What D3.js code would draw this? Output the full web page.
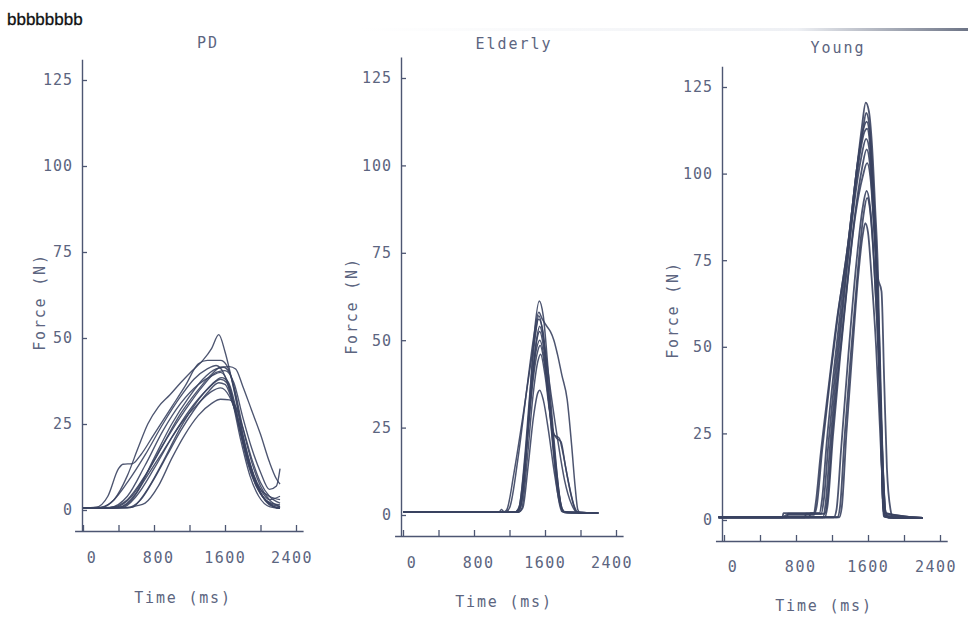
<!DOCTYPE html>
<html><head><meta charset="utf-8">
<script src="https://cdn.jsdelivr.net/npm/d3@7"></script>
<style>body{margin:0;background:#fff}svg{display:block}</style>
</head><body>
<script>
// ---------------- DATA ----------------
const headerText = "bbbbbbbb";
const panelTitles = ["PD", "Elderly", "Young"];
const yTickValues = [0, 25, 50, 75, 100, 125];
const xTickValues = [0, 400, 800, 1200, 1600, 2000, 2400];
const xLabelValues = [0, 800, 1600, 2400];
const xAxisTitle = "Time (ms)";
const yAxisTitle = "Force (N)";

// PD trials: [time ms, force N]
const pdCurves = [
  [[0,0.5],[200,0.8],[350,3],[500,10],[620,18],[730,25],[850,30],[980,33.5],[1100,37],[1230,40.5],[1350,43.5],[1450,47],[1530,51],[1600,46],[1700,35],[1800,22],[1900,12],[2000,5],[2100,1.5],[2220,0.5]],
  [[0,0.5],[150,0.8],[280,4],[400,12],[450,13.3],[560,13.5],[650,16],[800,22],[1000,30],[1150,36],[1300,42.5],[1400,43.5],[1550,43.5],[1620,42],[1700,36],[1800,24],[1900,14],[2000,7],[2100,3],[2220,1]],
  [[0,0.5],[300,0.7],[500,3],[700,10],[900,19],[1100,28],[1300,35],[1450,39.5],[1550,41.5],[1650,41.7],[1720,41],[1800,36],[1900,29],[2000,22],[2100,14],[2180,9],[2220,7.5]],
  [[0,0.5],[350,0.7],[550,4],[750,12],[950,21],[1150,29],[1350,36],[1500,40],[1600,40.5],[1700,37],[1800,27],[1900,18],[2000,11],[2100,6],[2180,7],[2220,12]],
  [[0,0.5],[500,0.6],[600,1.2],[700,2],[850,7],[1000,15],[1150,22],[1300,27.5],[1450,31],[1550,32.2],[1650,32],[1720,30],[1800,24],[1900,15],[2000,8],[2100,4],[2220,2]],
  [[0,0.5],[400,0.7],[550,3],[700,9],[900,17],[1100,25],[1300,31],[1450,34.5],[1550,35.5],[1650,33],[1750,26],[1850,16],[1950,8],[2050,3],[2150,1],[2220,0.5]],
  [[0,0.5],[450,0.8],[600,4],[800,12],[1000,21],[1200,29],[1400,35],[1550,38],[1620,37],[1700,31],[1800,20],[1900,11],[2000,5],[2100,2],[2220,1]],
  [[0,0.5],[300,0.7],[500,4],[700,13],[900,23],[1100,31],[1300,36.5],[1450,39],[1550,40],[1650,36],[1750,25],[1850,14],[1950,7],[2050,3],[2150,1],[2220,0.5]],
  [[0,0.5],[500,0.7],[650,3],[800,9],[950,16],[1100,23],[1250,29],[1400,34],[1530,37],[1600,36.5],[1700,30],[1800,20],[1900,11],[2000,6],[2100,4],[2220,3]],
  [[0,0.5],[550,0.8],[700,5],[900,14],[1100,24],[1300,32],[1450,36.5],[1560,38.5],[1640,37],[1720,30],[1820,18],[1920,9],[2020,4],[2120,2],[2220,1.5]],
  [[0,0.5],[400,0.8],[600,5],[800,15],[1000,25],[1200,33],[1350,38],[1500,41],[1580,41.5],[1650,40],[1720,33],[1800,22],[1900,12],[2000,6],[2100,3],[2220,4]],
  [[0,0.5],[200,0.6],[350,3],[500,8],[700,16],[900,25],[1100,33],[1250,38],[1400,41],[1500,42],[1580,40],[1680,32],[1780,20],[1880,10],[1980,4],[2100,1],[2220,0.5]]
];

// Elderly trials
const elderlyCurves = [
  [[0,0.8],[1200,0.8],[1300,1],[1360,8],[1420,30],[1480,52],[1536,61.2],[1580,57],[1640,40],[1700,22],[1760,6],[1800,1],[1900,0.6],[2200,0.6]],
  [[0,0.8],[1150,0.8],[1200,2],[1300,17],[1400,37],[1480,52],[1530,58],[1570,56],[1620,54],[1660,52.5],[1700,50],[1740,46],[1790,40],[1850,33],[1900,20],[1940,8],[1970,1.5],[2000,0.6],[2200,0.6]],
  [[0,0.8],[1080,0.8],[1110,1.6],[1140,0.9],[1170,1.5],[1250,12],[1350,28],[1450,45],[1530,56],[1580,52],[1640,36],[1700,19],[1760,5],[1800,1],[1850,0.6],[2200,0.6]],
  [[0,0.8],[1250,0.8],[1320,2],[1380,16],[1440,35],[1500,49],[1540,52.5],[1590,47],[1650,33],[1720,15],[1780,3],[1820,0.8],[2200,0.6]],
  [[0,0.8],[1250,0.8],[1300,1.5],[1360,12],[1430,32],[1500,47],[1540,50],[1590,45],[1640,33],[1690,24],[1730,22],[1780,21],[1830,14],[1900,5],[1950,1],[2000,0.6],[2200,0.6]],
  [[0,0.8],[1280,0.8],[1330,3],[1390,18],[1450,35],[1510,46],[1545,48.5],[1600,42],[1660,28],[1730,11],[1790,2],[1830,0.8],[2200,0.6]],
  [[0,0.8],[1300,0.8],[1340,2],[1400,16],[1460,33],[1520,44],[1550,46],[1600,40],[1650,30],[1700,23],[1760,22],[1800,18],[1860,10],[1930,2.5],[1970,0.8],[2200,0.6]],
  [[0,0.8],[1300,0.8],[1350,2],[1410,14],[1470,28],[1520,35],[1540,35.7],[1580,33],[1640,24],[1700,13],[1760,4],[1800,1],[2200,0.6]],
  [[0,0.8],[1260,0.8],[1310,2.5],[1370,16],[1430,35],[1490,51],[1530,57],[1570,53],[1630,37],[1690,19],[1750,5],[1790,1],[2200,0.6]],
  [[0,0.8],[1280,0.8],[1330,4],[1400,22],[1460,39],[1510,51],[1540,54],[1590,49],[1660,36],[1740,22],[1820,10],[1900,3],[1960,0.8],[2200,0.6]]
];

// Young trials
const youngCurves = [
  [[-60,0.8],[650,0.8],[660,2],[1000,2],[1020,5],[1070,18],[1160,38],[1250,57],[1360,76],[1470,100],[1530,113],[1575,120.5],[1610,118],[1645,108],[1680,90],[1710,72],[1730,48],[1745,25],[1760,8],[1775,1],[1850,0.6],[2210,0.6]],
  [[-60,0.8],[650,0.8],[700,1.5],[1000,1.5],[1030,4],[1090,20],[1180,41],[1270,60],[1380,80],[1480,102],[1540,112],[1580,117.5],[1615,114],[1650,100],[1685,80],[1715,55],[1740,30],[1760,10],[1780,1.5],[1860,0.6],[2210,0.6]],
  [[-60,0.8],[700,0.8],[710,1.8],[1080,1.8],[1110,6],[1160,22],[1240,44],[1320,63],[1410,84],[1500,104],[1560,112],[1590,113],[1620,109],[1655,95],[1690,75],[1720,50],[1745,25],[1765,6],[1785,1],[2210,0.6]],
  [[-60,0.8],[1100,0.8],[1130,5],[1180,22],[1260,45],[1340,66],[1430,88],[1520,104],[1580,110],[1620,106],[1660,90],[1700,70],[1730,45],[1755,18],[1780,2],[2210,0.6]],
  [[-60,0.8],[900,0.8],[910,1.8],[1120,1.8],[1150,6],[1200,24],[1280,46],[1360,66],[1450,87],[1530,101],[1585,107],[1620,103],[1660,88],[1700,69],[1735,45],[1760,20],[1790,3],[1830,0.6],[2210,0.6]],
  [[-60,0.8],[1120,0.8],[1150,4],[1210,24],[1290,47],[1370,68],[1460,88],[1540,99],[1590,103],[1630,98],[1670,83],[1710,70],[1750,66],[1780,40],[1810,15],[1850,3],[1880,0.6],[2210,0.6]],
  [[-60,0.8],[1220,0.8],[1250,3],[1300,20],[1380,47],[1470,74],[1540,90],[1585,95],[1620,91],[1660,78],[1700,58],[1740,33],[1770,12],[1800,2],[2210,0.6]],
  [[-60,0.8],[1260,0.8],[1290,4],[1340,24],[1410,48],[1490,73],[1550,88],[1590,93],[1625,89],[1665,75],[1705,55],[1745,30],[1775,10],[1800,1.5],[2210,0.6]],
  [[-60,0.8],[1280,0.8],[1310,4],[1360,25],[1430,50],[1490,70],[1540,82],[1570,85.7],[1600,83],[1640,70],[1690,50],[1730,28],[1765,9],[1795,1],[2210,0.6]],
  [[-60,0.8],[950,0.8],[960,2],[1060,2],[1090,6],[1140,22],[1220,43],[1300,62],[1400,84],[1490,104],[1550,113],[1585,115],[1620,111],[1655,96],[1690,76],[1720,50],[1745,25],[1765,6],[1785,1],[2210,0.6]]
];

// ---------------- DRAWING ----------------
const W = 968, H = 619;
const LINE = "#3a4360", AXIS = "#4d5672", TEXT = "#5c6580";
const FONT = "'DejaVu Sans Mono', monospace";

const svg = d3.select("body").append("svg").attr("width", W).attr("height", H);

// scan artefact line at top
const grad = svg.append("defs").append("linearGradient").attr("id", "g1");
grad.append("stop").attr("offset", "0%").attr("stop-color", "#ffffff");
grad.append("stop").attr("offset", "72%").attr("stop-color", "#eef0f4");
grad.append("stop").attr("offset", "100%").attr("stop-color", "#6d7486");
svg.append("rect").attr("x", 360).attr("y", 28).attr("width", W - 360).attr("height", 3).attr("fill", "url(#g1)");

svg.append("text").attr("x", 7).attr("y", 25).text(headerText)
  .attr("font-family", "'Liberation Sans', Arial, sans-serif").attr("font-size", 17)
  .attr("fill", "#111").attr("stroke", "#111").attr("stroke-width", 0.3);

const layouts = [
  {curves: pdCurves, axisX: 82, x0: 83, xk: 0.08875, y0: 510, yk: 3.44, axisY: 531, titleX: 208, titleY: 48, labY: 563, xtX: 183, xtY: 603, ytX: 45, ytY: 302, lw: 1.35},
  {curves: elderlyCurves, axisX: 401, x0: 403, xk: 0.08875, y0: 515, yk: 3.496, axisY: 536, titleX: 514, titleY: 49, labY: 568, xtX: 504, xtY: 607, ytX: 357, ytY: 306, lw: 1.5},
  {curves: youngCurves, axisX: 722, x0: 724, xk: 0.09, y0: 520, yk: 3.464, axisY: 541, titleX: 838, titleY: 53, labY: 572, xtX: 824, xtY: 611, ytX: 678, ytY: 310, lw: 1.8}
];

layouts.forEach((L, i) => {
  const g = svg.append("g");
  const x = d3.scaleLinear().domain([-95, 2480]).range([L.x0 - 95 * L.xk, L.x0 + 2480 * L.xk]);
  const xl = d3.scaleLinear().domain([0, 2400]).range([L.x0 + 9, L.x0 + 2400 * L.xk - 4]);
  const y = d3.scaleLinear().domain([-6, 131]).range([L.y0 + 6 * L.yk, L.y0 - 131 * L.yk]);

  const ya = g.append("g").attr("transform", `translate(${L.axisX},0)`)
    .call(d3.axisLeft(y).tickValues(yTickValues).tickSizeInner(-5).tickSizeOuter(0).tickPadding(9));
  const xa = g.append("g").attr("transform", `translate(0,${L.axisY})`)
    .call(d3.axisBottom(x).tickValues(xTickValues).tickSizeInner(-6).tickSizeOuter(0).tickFormat(""));
  [ya, xa].forEach(a => {
    a.select(".domain").attr("stroke", AXIS).attr("stroke-width", 1.4);
    a.selectAll(".tick line").attr("stroke", AXIS).attr("stroke-width", 1.3);
    a.selectAll("text").attr("font-family", FONT).attr("font-size", 15).attr("fill", TEXT)
      .attr("letter-spacing", 1);
  });

  g.selectAll("text.xl").data(xLabelValues).join("text").attr("class", "xl")
    .attr("x", d => xl(d)).attr("y", L.labY).attr("text-anchor", "middle")
    .attr("font-family", FONT).attr("font-size", 15).attr("letter-spacing", 1.5).attr("fill", TEXT)
    .text(d => d);

  g.append("text").attr("x", L.titleX).attr("y", L.titleY).attr("text-anchor", "middle")
    .attr("font-family", FONT).attr("font-size", 15).attr("letter-spacing", 2).attr("fill", TEXT)
    .text(panelTitles[i]);
  g.append("text").attr("x", L.xtX).attr("y", L.xtY).attr("text-anchor", "middle")
    .attr("font-family", FONT).attr("font-size", 15).attr("letter-spacing", 1.8).attr("fill", TEXT)
    .text(xAxisTitle);
  g.append("text").attr("transform", `translate(${L.ytX},${L.ytY}) rotate(-90)`).attr("text-anchor", "middle")
    .attr("font-family", FONT).attr("font-size", 15).attr("letter-spacing", 1.8).attr("fill", TEXT)
    .text(yAxisTitle);

  const line = d3.line().x(d => x(d[0])).y(d => y(d[1])).curve(d3.curveMonotoneX);
  g.append("g").selectAll("path").data(L.curves).join("path")
    .attr("d", line).attr("fill", "none").attr("stroke", LINE)
    .attr("stroke-width", L.lw).attr("stroke-linejoin", "round").attr("stroke-opacity", 0.9);
});
</script>
</body></html>
